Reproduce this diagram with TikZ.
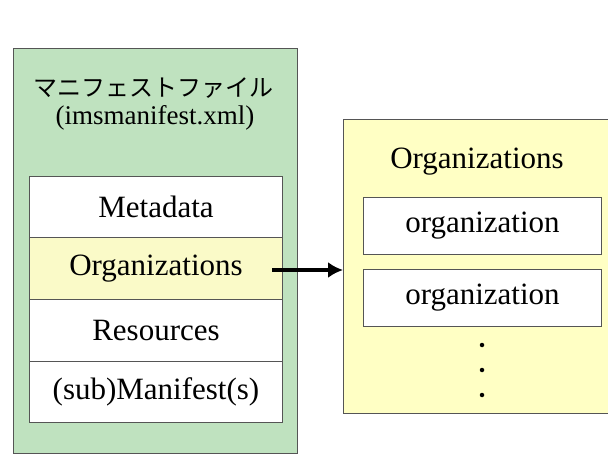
\documentclass[tikz,border=0pt]{standalone}
\usepackage{fontspec}
\setmainfont{Liberation Serif}
\newfontfamily\jpfont{Noto Sans CJK JP}
\usetikzlibrary{arrows.meta}
\definecolor{mgreen}{RGB}{191,226,191}
\definecolor{myellow}{RGB}{255,255,196}
\definecolor{rowyellow}{RGB}{250,250,200}
\definecolor{edgegray}{RGB}{85,85,85}
\tikzset{
  box/.style={draw=edgegray, line width=1pt, rectangle, inner sep=0pt, anchor=north west},
  lbl/.style={font=\fontsize{31}{36}\selectfont, text=black, inner sep=0pt},
  dotmark/.style={circle, fill=black, inner sep=0pt, minimum size=4.5pt},
  link/.style={line width=3.5pt, -{Latex[length=15pt,width=16pt]}}
}
\begin{document}
\begin{tikzpicture}[x=1pt,y=-1pt]
\useasboundingbox (0,0) rectangle (608,457);
\clip (0,0) rectangle (608,457);
\fill[white] (0,0) rectangle (608,457);
% left manifest file box
\node[box, fill=mgreen, minimum width=284pt, minimum height=405pt] (file) at (13,48) {};
\node[font=\jpfont\fontsize{24}{30}\selectfont, inner sep=0pt] (ftitle) at (154,88) {マニフェストファイル};
\node[font=\fontsize{27}{32}\selectfont, inner sep=0pt] (fname) at (155,118) {(imsmanifest.xml)};
% stack rows
\node[box, fill=white, minimum width=253pt, minimum height=61.5pt] (meta) at (29,176) {};
\node[box, fill=rowyellow, minimum width=253pt, minimum height=61.5pt] (orgs) at (29,237.5) {};
\node[box, fill=white, minimum width=253pt, minimum height=61.5pt] (res) at (29,299) {};
\node[box, fill=white, minimum width=253pt, minimum height=61.5pt] (sub) at (29,360.5) {};
\node[lbl] at (meta.center) {Metadata};
\node[lbl] at (orgs.center) {Organizations};
\node[lbl] at (res.center) {Resources};
\node[lbl] at (sub.center) {(sub)Manifest(s)};
% right organizations box
\node[box, fill=myellow, minimum width=280pt, minimum height=294pt] (orgbox) at (343,119) {};
\node[lbl] (otitle) at (477,162) {Organizations};
\node[box, fill=white, minimum width=238pt, minimum height=57pt] (org1) at (363,197) {};
\node[box, fill=white, minimum width=238pt, minimum height=57pt] (org2) at (363,269) {};
\node[lbl] at (org1.center) {organization};
\node[lbl] at (org2.center) {organization};
\node[dotmark] (d1) at (482,345) {};
\node[dotmark] (d2) at (482,370) {};
\node[dotmark] (d3) at (482,395) {};
% arrow
\coordinate (astart) at (272,270);
\draw[link] (astart) -- (orgbox.west |- astart);
\end{tikzpicture}
\end{document}
